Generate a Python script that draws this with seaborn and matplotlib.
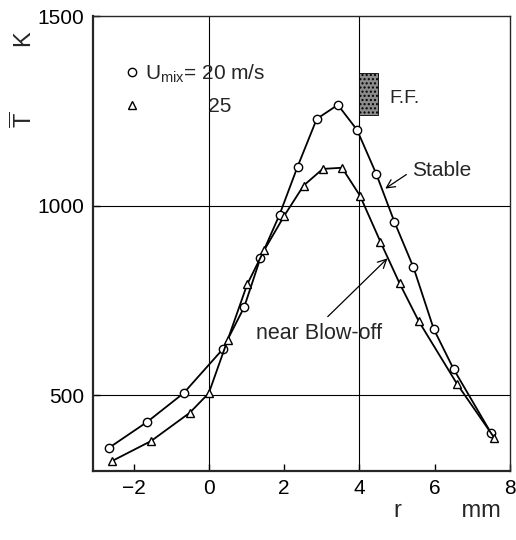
import numpy as np
import pandas as pd
import matplotlib
matplotlib.use("Agg")
import matplotlib.pyplot as plt
from matplotlib.patches import Rectangle
from matplotlib.lines import Line2D
import seaborn as sns

# radial position r [mm] and mean temperature T [K]
r_20 = [-2.65, -1.64, -0.67, 0.37, 0.94, 1.37, 1.88, 2.36, 2.87, 3.43, 3.94, 4.45, 4.93, 5.44, 5.98, 6.51, 7.50]
T_20 = [361, 429, 505, 621, 732, 861, 976, 1103, 1229, 1266, 1200, 1084, 958, 837, 674, 568, 400]

r_25 = [-2.57, -1.53, -0.51, 0.00, 0.50, 1.02, 1.47, 2.01, 2.52, 3.03, 3.54, 4.02, 4.56, 5.07, 5.58, 6.60, 7.59]
T_25 = [326, 379, 453, 505, 645, 792, 882, 974, 1053, 1097, 1100, 1026, 905, 795, 695, 529, 387]

x_ticks = [-2, 0, 2, 4, 6, 8]
y_ticks = [500, 1000, 1500]
grid_x = [0, 4]
grid_y = [500, 1000]

# flame front band (F.F.)
ff_r = [3.98, 4.50]
ff_T = [1239, 1350]


def main():
    sns.set_style("ticks")
    plt.rcParams["font.family"] = ["Liberation Sans", "DejaVu Sans"]
    plt.rcParams["mathtext.fontset"] = "custom"
    plt.rcParams["mathtext.rm"] = "Liberation Sans"
    plt.rcParams["mathtext.it"] = "Liberation Sans"

    df20 = pd.DataFrame({"r": r_20, "T": T_20})
    df25 = pd.DataFrame({"r": r_25, "T": T_25})

    fig = plt.figure(figsize=(5.16, 5.40), dpi=100)
    ax = fig.add_axes([0.180, 0.128, 0.808, 0.842])

    for v in grid_x:
        ax.axvline(v, color="black", lw=0.8, zorder=1)
    for v in grid_y:
        ax.axhline(v, color="black", lw=0.8, zorder=1)

    sns.lineplot(data=df20, x="r", y="T", ax=ax, color="black", lw=1.3,
                 marker="o", markersize=6, markerfacecolor="white",
                 markeredgecolor="black", markeredgewidth=1.0, sort=False, zorder=3)
    sns.lineplot(data=df25, x="r", y="T", ax=ax, color="black", lw=1.3,
                 marker="^", markersize=5.5, markerfacecolor="white",
                 markeredgecolor="black", markeredgewidth=1.0, sort=False, zorder=3)

    ax.add_patch(Rectangle((ff_r[0], ff_T[0]), ff_r[1] - ff_r[0], ff_T[1] - ff_T[0],
                           facecolor="0.55", edgecolor="black", hatch="....", lw=0.6, zorder=2))
    ax.text(4.80, 1284, "F.F.", fontsize=14, va="center", ha="left")

    ax.annotate("Stable", xy=(4.69, 1045), xytext=(5.40, 1092), fontsize=15,
                va="center", ha="left",
                arrowprops=dict(arrowstyle="->", color="black", lw=0.9,
                                relpos=(0.0, 0.5), shrinkA=2, shrinkB=0))
    ax.annotate("near Blow-off", xy=(4.75, 861), xytext=(1.25, 663), fontsize=15.5,
                va="center", ha="left",
                arrowprops=dict(arrowstyle="->", color="black", lw=0.9,
                                relpos=(0.52, 1.0), shrinkA=3, shrinkB=0))

    handles = [
        Line2D([], [], ls="none", marker="o", markersize=6, mfc="white", mec="black", mew=1.0),
        Line2D([], [], ls="none", marker="^", markersize=5.5, mfc="white", mec="black", mew=1.0),
    ]
    labels = [r"U$_{\mathregular{mix}}$= 20 m/s", "           25"]
    ax.legend(handles, labels, loc="upper left", bbox_to_anchor=(0.04, 0.93),
              frameon=False, fontsize=15, handlelength=0.8, handletextpad=0.2,
              labelspacing=0.6, borderpad=0.2)

    ax.set_xlim(-3.08, 8.0)
    ax.set_ylim(300, 1500)
    ax.set_xticks(x_ticks)
    ax.set_yticks(y_ticks)
    ax.set_xticklabels(["\u22122", "0", "2", "4", "6", "8"])
    ax.tick_params(axis="both", direction="in", length=5, width=1.0,
                   labelsize=15, pad=6, colors="black")

    ax.set_xlabel("r         mm", fontsize=17)
    ax.xaxis.set_label_coords(0.85, -0.065)
    ax.set_ylabel(r"$\overline{\mathregular{T}}$          K", fontsize=17)
    ax.yaxis.set_label_coords(-0.135, 0.862)

    for side in ["left", "bottom"]:
        ax.spines[side].set_linewidth(1.6)
    for side in ["top", "right"]:
        ax.spines[side].set_visible(True)
        ax.spines[side].set_linewidth(1.0)

    fig.savefig("out.png", dpi=100)
    plt.close(fig)


if __name__ == "__main__":
    main()
